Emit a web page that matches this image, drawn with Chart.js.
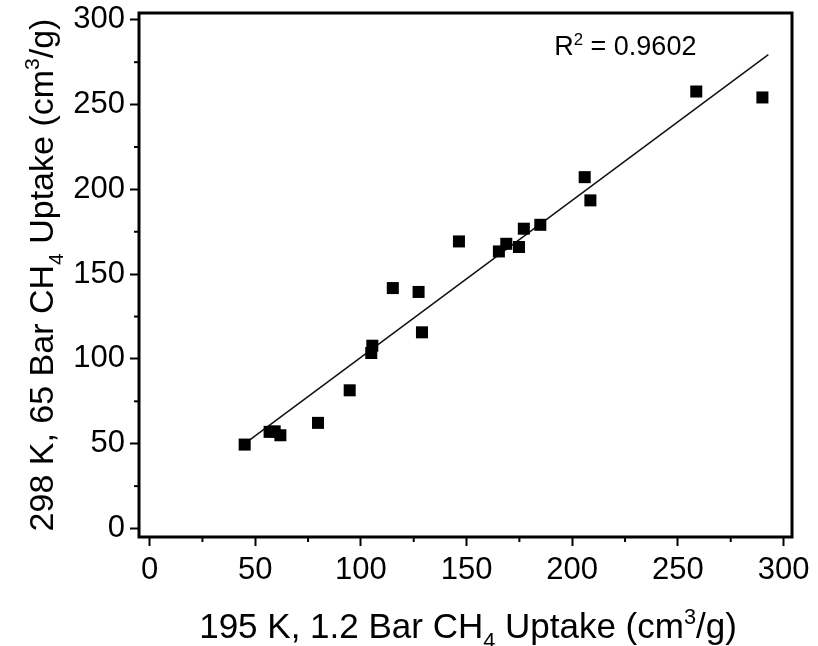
<!DOCTYPE html>
<html>
<head>
<meta charset="utf-8">
<script src="https://cdn.jsdelivr.net/npm/chart.js@4"></script>
<style>
  html, body { margin: 0; padding: 0; background: #fff; }
  #wrap { width: 818px; height: 646px; }
</style>
</head>
<body>
<div id="wrap"><canvas id="uptakeChart" width="818" height="646"></canvas></div>
<script>
const uptake195K = [45, 56.8, 59.2, 61.9, 79.7, 94.7, 104.9, 105.4, 115.1, 127.3, 128.9, 146.4, 165.3, 168.8, 174.8, 177.1, 184.9, 205.9, 208.6, 258.7, 290];
const uptake298K = [49.5, 57, 57.3, 55, 62.3, 81.5, 103.5, 107.8, 141.8, 139.5, 115.7, 169.3, 163.4, 167.9, 166, 176.8, 179.1, 207.2, 193.5, 257.7, 254.2];

// Linear fit, end points as drawn on the figure
const fitX = [46.3, 292.8];
const fitY = [51.2, 279.5];
const fitLabel = 'R² = 0.9602';

// Tick labels
const xTicks = [0, 50, 100, 150, 200, 250, 300];
const yTicks = [0, 50, 100, 150, 200, 250, 300];
const minorTicks = [25, 75, 125, 175, 225, 275];

const FONT = "'Liberation Sans', Arial, sans-serif";

/**
 * Draw a string made of pieces, some of them sub- or superscript
 */
function drawRichText(ctx, parts, x, y, size, align) {
  const widths = parts.map(p => {
    ctx.font = (p.sub || p.sup ? size * 0.62 : size) + 'px ' + FONT;
    return ctx.measureText(p.t).width;
  });
  const total = widths.reduce((a, b) => a + b, 0);
  let cx = align === 'center' ? x - total / 2 : x;
  parts.forEach((p, i) => {
    ctx.font = (p.sub || p.sup ? size * 0.62 : size) + 'px ' + FONT;
    let dy = 0;
    if (p.sub) dy = size * 0.28;
    if (p.sup) dy = -size * 0.4;
    ctx.fillText(p.t, cx, y + dy);
    cx += widths[i];
  });
}

const framePlugin = {
  id: 'frame',
  afterDraw(chart) {
    const { ctx, chartArea, scales } = chart;
    ctx.save();
    ctx.fillStyle = '#000';
    ctx.strokeStyle = '#000';

    // box round the plot
    ctx.lineWidth = 3;
    ctx.strokeRect(chartArea.left, chartArea.top, chartArea.right - chartArea.left, chartArea.bottom - chartArea.top);

    // minor ticks
    ctx.lineWidth = 2;
    minorTicks.forEach(v => {
      const px = scales.x.getPixelForValue(v);
      ctx.beginPath();
      ctx.moveTo(px, chartArea.bottom);
      ctx.lineTo(px, chartArea.bottom + 5);
      ctx.stroke();
      const py = scales.y.getPixelForValue(v);
      ctx.beginPath();
      ctx.moveTo(chartArea.left, py);
      ctx.lineTo(chartArea.left - 5, py);
      ctx.stroke();
    });

    // R² annotation
    ctx.textBaseline = 'alphabetic';
    ctx.textAlign = 'left';
    const rx = scales.x.getPixelForValue(191.5);
    const ry = scales.y.getPixelForValue(279);
    drawRichText(ctx, [{ t: 'R' }, { t: '2', sup: true }, { t: ' = 0.9602' }], rx, ry, 27, 'left');

    // axis titles
    drawRichText(ctx, [
      { t: '195 K, 1.2 Bar CH' }, { t: '4', sub: true }, { t: ' Uptake (cm' }, { t: '3', sup: true }, { t: '/g)' }
    ], 468, 638, 35, 'center');

    ctx.translate(53, 275);
    ctx.rotate(-Math.PI / 2);
    drawRichText(ctx, [
      { t: '298 K, 65 Bar CH' }, { t: '4', sub: true }, { t: ' Uptake (cm' }, { t: '3', sup: true }, { t: '/g)' }
    ], 0, 0, 34, 'center');
    ctx.restore();
  }
};

const points = uptake195K.map((x, i) => ({ x: x, y: uptake298K[i] }));
const fitLine = fitX.map((x, i) => ({ x: x, y: fitY[i] }));

new Chart(document.getElementById('uptakeChart'), {
  type: 'scatter',
  data: {
    datasets: [{
      label: 'Uptake',
      data: points,
      pointStyle: 'rect',
      pointRadius: 8.5,
      pointHoverRadius: 8.5,
      backgroundColor: '#000',
      borderColor: '#000',
      borderWidth: 0
    }, {
      label: fitLabel,
      type: 'line',
      data: fitLine,
      borderColor: '#111',
      borderWidth: 1.5,
      pointRadius: 0,
      fill: false
    }]
  },
  options: {
    responsive: false,
    animation: false,
    layout: { padding: { top: 13, right: 26, left: 0, bottom: 0 } },
    plugins: {
      legend: { display: false },
      tooltip: { enabled: false }
    },
    scales: {
      x: {
        type: 'linear',
        min: -5,
        max: 304,
        afterBuildTicks: s => { s.ticks = xTicks.map(v => ({ value: v })); },
        afterFit: s => { s.height = 109; s.paddingLeft = 0; s.paddingRight = 0; },
        grid: { drawOnChartArea: false, tickLength: 9, tickWidth: 2, tickColor: '#000' },
        border: { display: false },
        ticks: { color: '#000', padding: 6, maxRotation: 0, font: { family: FONT, size: 31 } }
      },
      y: {
        type: 'linear',
        min: -5,
        max: 304,
        afterBuildTicks: s => { s.ticks = yTicks.map(v => ({ value: v })); },
        afterFit: s => { s.width = 139; s.paddingTop = 0; s.paddingBottom = 0; },
        grid: { drawOnChartArea: false, tickLength: 9, tickWidth: 2, tickColor: '#000' },
        border: { display: false },
        ticks: { color: '#000', padding: 5, font: { family: FONT, size: 31 } }
      }
    }
  },
  plugins: [framePlugin]
});
</script>
</body>
</html>
